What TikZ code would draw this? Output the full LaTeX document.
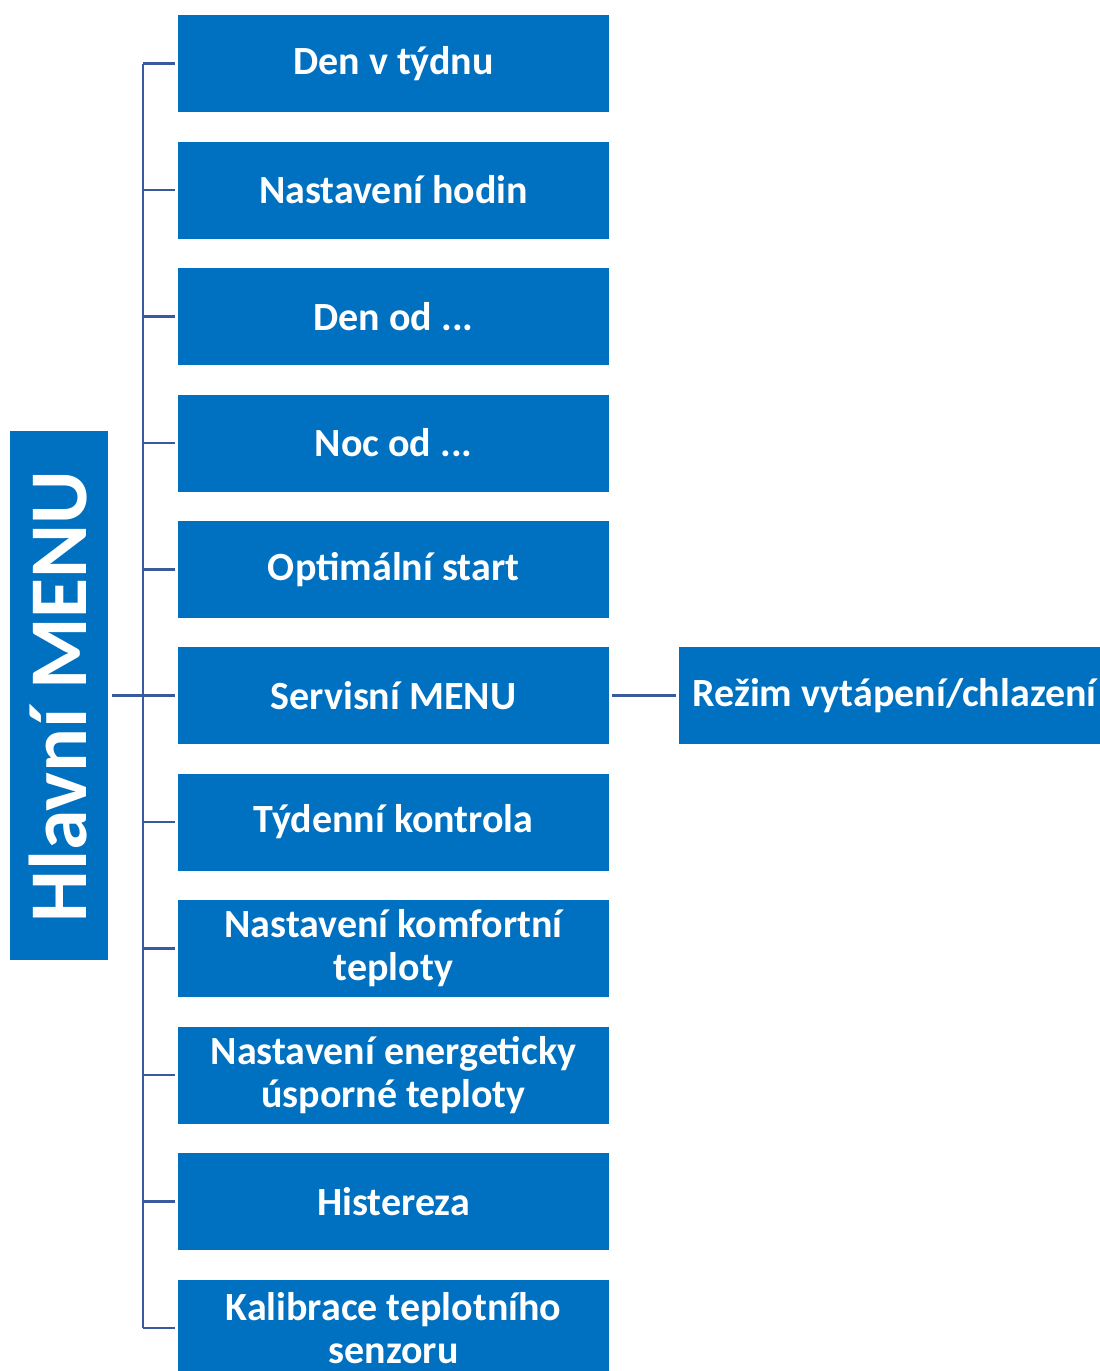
\documentclass[tikz,border=0pt]{standalone}
\usepackage{fontspec}
\setmainfont{Carlito}
\definecolor{boxblue}{HTML}{0070C0}
\definecolor{linecol}{HTML}{3A5AA0}
\begin{document}
\begin{tikzpicture}[x=1pt,y=-1pt,
  item/.style={rectangle,fill=boxblue,text=white,minimum width=431pt,minimum height=97pt,
    inner sep=0pt,align=center,font=\bfseries\fontsize{40}{43}\selectfont},
  mainbox/.style={rectangle,fill=boxblue,text=white,minimum width=98pt,minimum height=529pt,
    inner sep=0pt},
  conn/.style={draw=linecol,line width=2.4pt}]
\useasboundingbox (0,0) rectangle (1100,1371);
\clip (0,0) rectangle (1100,1371);
\node[mainbox] (main) at (59,695.5) {};
\node[text=white,font=\bfseries\fontsize{82}{82}\selectfont,rotate=90,inner sep=0pt] (maintext) at (58,696.5) {Hlavní MENU};
\node[item] (b1) at (393.5,63.5) {Den v týdnu};
\node[item] (b2) at (393.5,190) {Nastavení hodin};
\node[item] (b3) at (393.5,316.5) {Den od ...};
\node[item] (b4) at (393.5,443) {Noc od ...};
\node[item] (b5) at (393.5,569.5) {Optimální start};
\node[item] (b6) at (393.5,695.5) {Servisní MENU};
\node[item] (b7) at (393.5,822) {Týdenní kontrola};
\node[item] (b8) at (393.5,948.5) {Nastavení komfortní\\teploty};
\node[item] (b9) at (393.5,1075) {Nastavení energeticky\\úsporné teploty};
\node[item] (b10) at (393.5,1201.5) {Histereza};
\node[item] (b11) at (393.5,1328) {Kalibrace teplotního\\senzoru};
\node[item] (r) at (894.5,695.5) {Režim vytápení/chlazení};
\coordinate (bus) at (143,695.5);
\draw[conn] (b1.west -| bus) -- (b11.west -| bus);
\foreach \i in {1,...,11}{
  \draw[conn,shorten <=3pt] (b\i.west) -- (b\i.west -| bus);
}
\draw[conn,shorten <=4pt] (main.east) -- (bus);
\draw[conn,shorten <=3pt,shorten >=3pt] (b6.east) -- (r.west);
\end{tikzpicture}
\end{document}
